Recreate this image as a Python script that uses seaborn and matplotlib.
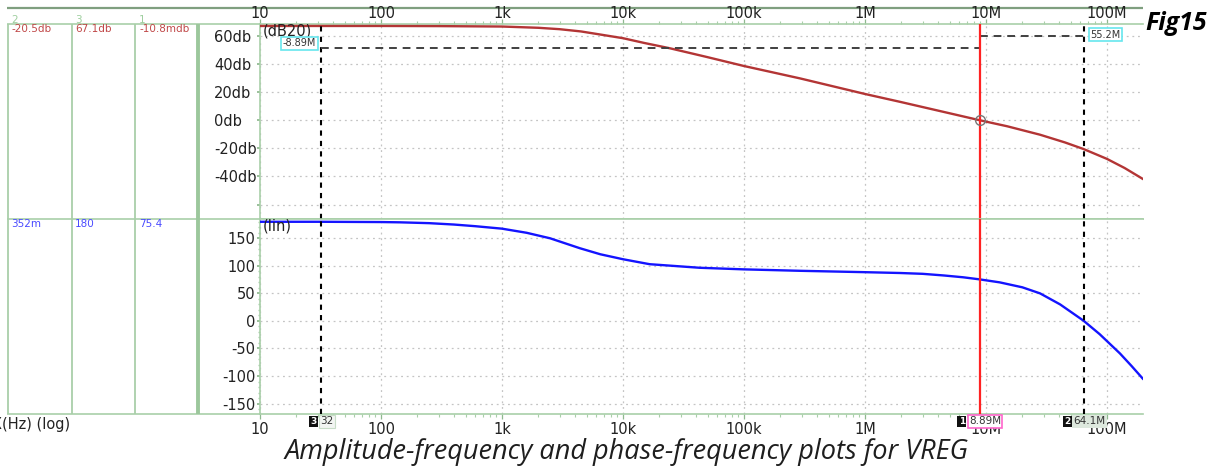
import numpy as np
import pandas as pd
import matplotlib
matplotlib.use("Agg")
import matplotlib.pyplot as plt
import seaborn as sns

mag_freq = [10, 30, 100, 300, 1e3, 2e3, 3e3, 4.5e3, 6.5e3, 1e4, 1.5e4, 2.45e4,
            5e4, 1e5, 2.9e5, 1e6, 1.95e6, 4e6, 8.89e6, 1.5e7, 2.8e7, 4.5e7,
            6.41e7, 1e8, 1.4e8, 2e8]
mag_db = [67.1, 67.1, 67.1, 67.0, 66.7, 65.8, 64.8, 63.2, 61.0, 58.4, 55.0, 51.2,
          44.9, 38.6, 29.8, 18.7, 13.1, 6.9, 0.0, -4.3, -10.3, -15.8,
          -20.5, -27.5, -34.0, -42.0]

ph_freq = [10, 32, 100, 144, 250, 400, 600, 1e3, 1.6e3, 2.5e3, 4.4e3, 6.5e3,
           1e4, 1.66e4, 4.3e4, 1e5, 2.9e5, 1e6, 1.95e6, 3e6, 4.5e6, 6.5e6, 8.89e6,
           1.3e7, 2e7, 2.8e7, 4.1e7, 6.41e7, 8.7e7, 1.28e8, 1.6e8, 2e8]
ph_deg = [180.0, 180.0, 179.5, 179.0, 177.5, 175.0, 172.0, 167.5, 160.0, 150.0,
          132.0, 121.0, 112.0, 103.0, 96.5, 93.6, 91.0, 88.5, 87.0, 85.5, 82.5,
          79.2, 75.4, 70.0, 61.0, 50.0, 30.0, 0.35, -24.0, -59.0, -82.0, -106.0]

cursor_freq = {"3": 32, "1": 8.89e6, "2": 6.41e7}
cursor_text = {"3": "32", "1": "8.89M", "2": "64.1M"}
delta_db = [51.7, 60.2]          # dashed delta-cursor levels in the top pane
delta_text = ["-8.89M", "55.2M"]

col_heads = ["2", "3", "1"]
col_mag = ["-20.5db", "67.1db", "-10.8mdb"]
col_ph = ["352m", "180", "75.4"]

xticks = [10, 100, 1e3, 1e4, 1e5, 1e6, 1e7, 1e8]
xlabels = ["10", "100", "1k", "10k", "100k", "1M", "10M", "100M"]
mag_ticks = [-60, -40, -20, 0, 20, 40, 60]
mag_labels = ["", "-40db", "-20db", "0db", "20db", "40db", "60db"]
ph_ticks = [-150, -100, -50, 0, 50, 100, 150]

df_mag = pd.DataFrame({"freq": mag_freq, "db": mag_db})
df_ph = pd.DataFrame({"freq": ph_freq, "deg": ph_deg})

# ── style ────────────────────────────────────────────────────────────────────
sns.set_theme(style="white")
plt.rcParams["font.family"] = ["DejaVu Sans"]

GREEN = "#a9cfa9"
GRID = "#c4c4c4"
RED_CURVE = "#b33535"
BLUE_CURVE = "#1414ff"
TXT = "#222222"

W, H = 1220, 470
fig = plt.figure(figsize=(W / 100, H / 100), dpi=100)
x0, x1 = 260, 1143
y_top, y_mid, y_bot = 24, 219.3, 414
ax_mag = fig.add_axes([x0 / W, 1 - y_mid / H, (x1 - x0) / W, (y_mid - y_top) / H])
ax_ph = fig.add_axes([x0 / W, 1 - y_bot / H, (x1 - x0) / W, (y_bot - y_mid) / H])

XMAX = 10 ** 8.298
for ax in (ax_mag, ax_ph):
    ax.set_xscale("log")
    ax.set_xlim(10, XMAX)
    ax.set_xticks(xticks)
    ax.set_xticklabels(xlabels)
    ax.xaxis.set_minor_locator(matplotlib.ticker.LogLocator(base=10, subs=np.arange(2, 10)))
    ax.xaxis.set_minor_formatter(matplotlib.ticker.NullFormatter())
    ax.grid(True, which="major", color=GRID, lw=0.9, ls=(0, (1.5, 3)))
    ax.set_facecolor("white")
    for s in ("left", "top", "bottom"):
        ax.spines[s].set_color(GREEN)
        ax.spines[s].set_linewidth(1.2)
    ax.spines["right"].set_visible(False)
    ax.tick_params(axis="x", which="major", length=3.5, width=0.9, color="#8fb88f",
                   labelsize=10.5, labelcolor=TXT)
    ax.tick_params(axis="x", which="minor", length=2.2, width=0.8, color=GREEN)
    ax.tick_params(axis="y", which="both", color="#8fb88f", left=True, labelsize=10.5,
                   labelcolor=TXT)

# magnitude pane
sns.lineplot(data=df_mag, x="freq", y="db", ax=ax_mag, color=RED_CURVE, lw=1.7, zorder=4)
ax_mag.set_ylim(-70.5, 68.5)
ax_mag.set_yticks(mag_ticks)
ax_mag.set_yticklabels(mag_labels)
ax_mag.xaxis.tick_top()
ax_mag.tick_params(axis="x", which="both", top=True, bottom=False, pad=-1.5)
ax_mag.tick_params(axis="y", which="major", length=2.5, pad=30.6)
for t in ax_mag.get_yticklabels():
    t.set_ha("left")
ax_mag.set_xlabel("")
ax_mag.set_ylabel("")
ax_mag.text(0.003, 0.965, "(dB20)", transform=ax_mag.transAxes, fontsize=10.5,
            color=TXT, ha="left", va="center", zorder=6)

# phase pane
sns.lineplot(data=df_ph, x="freq", y="deg", ax=ax_ph, color=BLUE_CURVE, lw=1.7, zorder=4)
ax_ph.set_ylim(-169, 184.5)
ax_ph.set_yticks(ph_ticks)
ax_ph.set_yticklabels([str(v) for v in ph_ticks])
ax_ph.yaxis.set_minor_locator(matplotlib.ticker.MultipleLocator(10))
ax_ph.tick_params(axis="y", which="major", length=2.5, pad=1)
ax_ph.tick_params(axis="y", which="minor", length=1.8, color=GREEN)
ax_ph.tick_params(axis="x", which="both", bottom=True, top=False, pad=2)
ax_ph.set_xlabel("")
ax_ph.set_ylabel("")
ax_ph.text(0.003, 0.965, "(lin)", transform=ax_ph.transAxes, fontsize=10.5,
           color=TXT, ha="left", va="center", zorder=6)

# cursors
for ax in (ax_mag, ax_ph):
    ax.axvline(cursor_freq["3"], color="black", lw=1.5, ls=(0, (2.5, 2.5)), zorder=5)
    ax.axvline(cursor_freq["2"], color="black", lw=1.5, ls=(0, (2.5, 2.5)), zorder=5)
    ax.axvline(cursor_freq["1"], color="#ff2222", lw=1.6, zorder=6)

ax_mag.hlines(delta_db[0], cursor_freq["3"], cursor_freq["1"], color="#404040",
              lw=1.4, ls=(0, (4, 3)), zorder=5)
ax_mag.hlines(delta_db[1], cursor_freq["1"], cursor_freq["2"], color="#404040",
              lw=1.4, ls=(0, (4, 3)), zorder=5)
ax_mag.plot([cursor_freq["1"]], [0], marker="o", ms=7, mfc="none", mec="#777777",
            mew=1.0, zorder=7)

cyan_box = dict(boxstyle="square,pad=0.15", fc="white", ec="#66e6ee", lw=1.2)
ax_mag.annotate(delta_text[0], xy=(cursor_freq["3"], delta_db[0]), xytext=(-5, 4.5),
                textcoords="offset pixels", ha="right", va="center", fontsize=7,
                color="#333333", bbox=cyan_box, zorder=8)
ax_mag.annotate(delta_text[1], xy=(cursor_freq["2"], delta_db[1]), xytext=(7, 1),
                textcoords="offset pixels", ha="left", va="center", fontsize=7,
                color="#333333", bbox=cyan_box, zorder=8)

# cursor tags under the x axis: (digit offset, value left offset, value box)
tag_style = {
    "3": (-7.5, -1, dict(boxstyle="square,pad=0.12", fc="#f2f5f2", ec="#c8dcc8", lw=0.8)),
    "1": (-18, -11, dict(boxstyle="square,pad=0.12", fc="white", ec="#ff66cc", lw=1.2)),
    "2": (-16.5, -10, dict(boxstyle="square,pad=0.12", fc="#dde8dd", ec="none")),
}
for key, (dnum, dval, box) in tag_style.items():
    f = cursor_freq[key]
    ax_ph.annotate(key, xy=(f, 0), xycoords=("data", "axes fraction"),
                   xytext=(dnum, -7.5), textcoords="offset pixels", ha="center",
                   va="center", fontsize=6.5, color="white", fontweight="bold",
                   bbox=dict(boxstyle="square,pad=0.15", fc="#111111", ec="none"),
                   zorder=9, annotation_clip=False)
    ax_ph.annotate(cursor_text[key], xy=(f, 0), xycoords=("data", "axes fraction"),
                   xytext=(dval, -7.5), textcoords="offset pixels",
                   ha="left", va="center", fontsize=7.5,
                   color="#333333", bbox=box, zorder=8, annotation_clip=False)

# ── left read-out panel and frame (figure pixel space) ──────────────────────
ov = fig.add_axes([0, 0, 1, 1], zorder=-1)
ov.set_xlim(0, W)
ov.set_ylim(H, 0)
ov.axis("off")
ov.hlines(8, 7, x1, color="#7f9f7f", lw=1.6)
ov.hlines([y_top, y_mid, y_bot], 7, x0, color=GREEN, lw=1.2)
ov.vlines([7.5, 71.7, 135.3], y_top, y_bot, color=GREEN, lw=1.3)
ov.vlines(198.3, y_top, y_bot, color="#9cc79c", lw=2.8)

col_x = [11, 75, 139]
for cx, head, m, p in zip(col_x, col_heads, col_mag, col_ph):
    ov.text(cx, 20, head, fontsize=7.5, color="#9fcf9f", ha="left", va="center")
    ov.text(cx, 29, m, fontsize=7.5, color="#c04848", ha="left", va="center")
    ov.text(cx, 224, p, fontsize=7.5, color="#4a4aff", ha="left", va="center")

ov.text(-7.5, 424.5, "X(Hz) (log)", fontsize=10.5, color=TXT, ha="left", va="center")

fig.text(1145 / W, 1 - 24 / H, "Fig15", family=["Open Sans"], fontsize=18,
         fontweight="bold", style="italic", color="black", ha="left", va="center")
fig.text(627 / W, 1 - 452 / H, "Amplitude-frequency and phase-frequency plots for VREG",
         family=["Open Sans"], fontsize=19.5, style="italic", color="#1e1e1e",
         ha="center", va="center")

fig.savefig("out.png", dpi=100)
